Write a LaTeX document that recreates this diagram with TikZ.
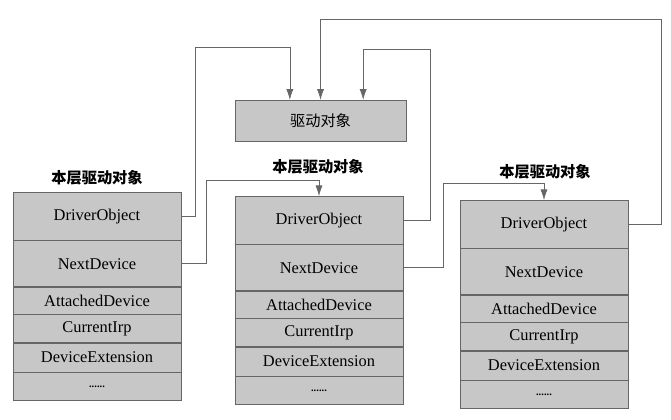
\documentclass[tikz,border=0pt]{standalone}
\usepackage{fontspec}
\setmainfont{Liberation Serif}
\newfontfamily\cjk{Noto Sans CJK SC}
\usetikzlibrary{positioning, arrows.meta, calc}

\tikzset{
    cell/.style={draw=black!60, fill=black!22, minimum width=5.05cm, inner sep=0pt, font=\fontsize{14}{16}\selectfont},
    head/.style={font=\cjk\bfseries\fontsize{13}{15}\selectfont},
    link/.style={draw=black!60, line width=0.5pt},
    tolink/.style={link, -{Latex[length=9pt, width=6pt]}}
}

\begin{document}
\begin{tikzpicture}[x=0.03cm, y=-0.03cm]
\useasboundingbox (0,0) rectangle (671,420);

% driver object
\node[cell, minimum width=5.13cm, minimum height=1.23cm, font=\cjk\fontsize{13}{15}\selectfont] (drv) at (320.5,120.5) {驱动对象};

% the three device tables
\foreach \t/\x/\y in {l/97/192, m/319/196, r/544/200}{
    \node[cell, anchor=north, minimum height=1.44cm] (\t Drv) at (\x,\y) {DriverObject};
    \node[cell, minimum height=1.38cm, below=0pt of \t Drv] (\t Next) {NextDevice};
    \node[cell, minimum height=0.81cm, below=0pt of \t Next] (\t Att) {AttachedDevice};
    \node[cell, minimum height=0.84cm, below=0pt of \t Att] (\t Irp) {CurrentIrp};
    \node[cell, minimum height=0.87cm, below=0pt of \t Irp] (\t Ext) {DeviceExtension};
    \node[cell, minimum height=0.84cm, below=0pt of \t Ext, font=\bfseries\fontsize{9}{10}\selectfont] (\t Dots) {......};
};

\node[head] (lHead) at (97,178) {本层驱动对象};
\node[head] (mHead) at (318,167) {本层驱动对象};
\node[head] (rHead) at (545,172) {本层驱动对象};

% DriverObject links
\draw[tolink] (lDrv.east) -- ++(14,0) |- ([xshift=-0.92cm, yshift=1.56cm]drv.north) -- ([xshift=-0.92cm]drv.north);
\draw[tolink] (mDrv.east) -- ++(27,0) |- ([xshift=1.28cm, yshift=1.5cm]drv.north) -- ([xshift=1.28cm]drv.north);
\draw[tolink] (rDrv.east) -- ++(33,0) |- ([yshift=2.4cm]drv.north) -- (drv.north);

% NextDevice links
\draw[tolink] (lNext.east) -- ++(25,0) |- ([yshift=0.48cm]mDrv.north) -- (mDrv.north);
\draw[tolink] (mNext.east) -- ++(40,0) |- ([yshift=0.51cm]rDrv.north) -- (rDrv.north);

\end{tikzpicture}
\end{document}
